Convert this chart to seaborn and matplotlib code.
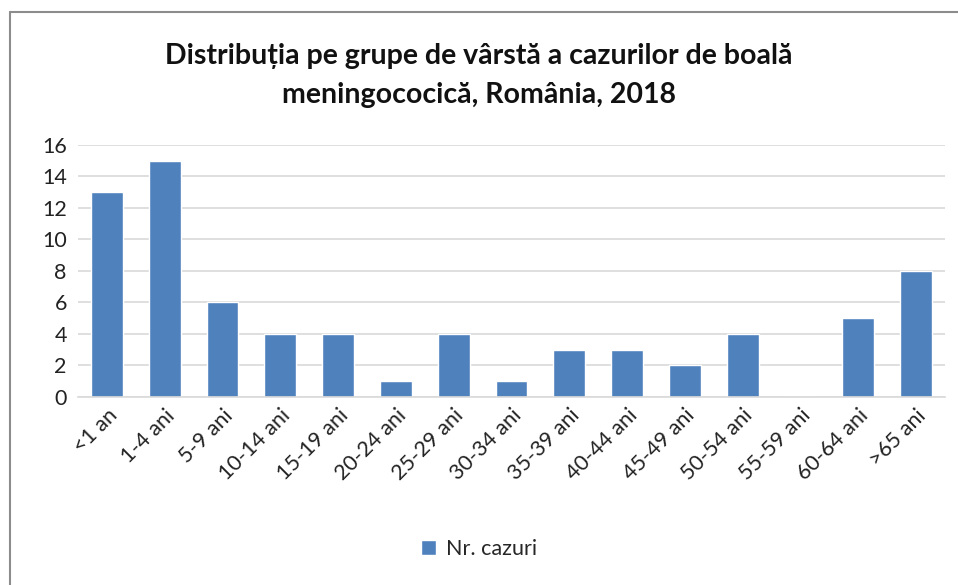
import pandas as pd
import seaborn as sns
import matplotlib.pyplot as plt
from matplotlib.lines import Line2D

grupe = ['<1 an', '1-4 ani', '5-9 ani', '10-14 ani', '15-19 ani', '20-24 ani',
         '25-29 ani', '30-34 ani', '35-39 ani', '40-44 ani', '45-49 ani',
         '50-54 ani', '55-59 ani', '60-64 ani', '>65 ani']
cazuri = [13, 15, 6, 4, 4, 1, 4, 1, 3, 3, 2, 4, 0, 5, 8]

df = pd.DataFrame({'Grupa': grupe, 'Nr. cazuri': cazuri})

sns.set_style('white')
plt.rcParams['font.family'] = ['Lato', 'DejaVu Sans']

fig = plt.figure(figsize=(9.58, 5.85), dpi=100)
ax = fig.add_axes([0.0814, 0.3214, 0.905, 0.4308])

sns.barplot(data=df, x='Grupa', y='Nr. cazuri', color='#4F81BD', saturation=1,
            width=0.55, ax=ax, label='Nr. cazuri')

ax.set_ylim(0, 16)
ax.set_yticks(range(0, 17, 2))
ax.set_xlim(-0.5, len(grupe) - 0.5)
ax.yaxis.grid(True, color='#d9d9d9', linewidth=1.2)
ax.set_axisbelow(True)
for s in ['left', 'right', 'top']:
    ax.spines[s].set_visible(False)
ax.spines['bottom'].set_color('#d9d9d9')
ax.spines['bottom'].set_linewidth(1.2)
ax.tick_params(axis='both', length=0, labelsize=15.5, colors='#222222')
ax.tick_params(axis='y', pad=8)
ax.tick_params(axis='x', pad=6)
ax.set_xlabel('')
ax.set_ylabel('')
plt.setp(ax.get_xticklabels(), rotation=45, ha='right', rotation_mode='anchor')

fig.text(0.5, 0.905, 'Distribuția pe grupe de vârstă a cazurilor de boală',
         ha='center', va='center', fontsize=20.5, fontweight='bold', color='#111111')
fig.text(0.5, 0.837, 'meningococică, România, 2018',
         ha='center', va='center', fontsize=20.5, fontweight='bold', color='#111111')

ax.legend(loc='center', bbox_to_anchor=(0.5, 0.061), bbox_transform=fig.transFigure,
          frameon=False, fontsize=15.5, handlelength=0.7, handleheight=0.7,
          handletextpad=0.5)

# chart frame
fig.add_artist(Line2D([10 / 958, 10 / 958], [0, 1 - 12 / 585], color='#8c8c8c', linewidth=1.5))
fig.add_artist(Line2D([10 / 958, 1], [1 - 12 / 585, 1 - 12 / 585], color='#8c8c8c', linewidth=1.5))

fig.savefig('out.png', dpi=100)
